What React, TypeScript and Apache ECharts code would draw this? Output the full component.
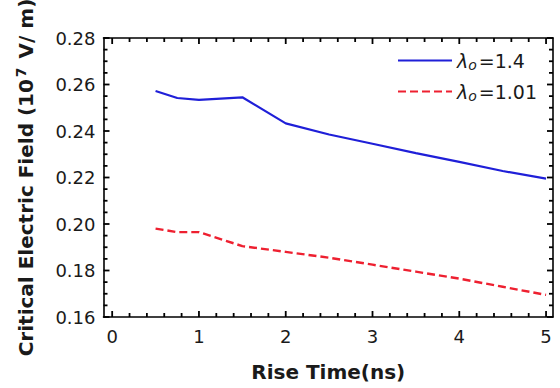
import React, { useEffect, useRef } from "react";
import * as echarts from "echarts";

const riseTime = [0.5, 0.75, 1.0, 1.5, 2.0, 2.5, 3.0, 3.5, 4.0, 4.5, 5.0];
const field14 = [0.2572, 0.2542, 0.2534, 0.2545, 0.2433, 0.2385, 0.2345, 0.2305, 0.2267, 0.2228, 0.2195];
const field101 = [0.198, 0.1965, 0.1965, 0.1905, 0.188, 0.1855, 0.1825, 0.1795, 0.1765, 0.173, 0.1695];
const seriesNames = ["λo=1.4", "λo=1.01"];
const legendLabels: Record<string, string> = {
  "λo=1.4": "{l|λ}{s|o}{n|=1.4}",
  "λo=1.01": "{l|λ}{s|o}{n|=1.01}",
};
const xMajor = [0, 1, 2, 3, 4, 5];
const xMinor = [0.2, 0.4, 0.6, 0.8, 1.2, 1.4, 1.6, 1.8, 2.2, 2.4, 2.6, 2.8, 3.2, 3.4, 3.6, 3.8, 4.2, 4.4, 4.6, 4.8];
const yMajor = [0.16, 0.18, 0.2, 0.22, 0.24, 0.26, 0.28];
const yMinor = [0.165, 0.17, 0.175, 0.185, 0.19, 0.195, 0.205, 0.21, 0.215, 0.225, 0.23, 0.235, 0.245, 0.25, 0.255, 0.265, 0.27, 0.275];

const FONT = "DejaVu Sans";
const TXT = "#1a1a1a";

export default function App() {
  const ref = useRef<HTMLDivElement>(null);
  useEffect(() => {
    document.body.style.margin = "0";
    const chart = echarts.init(ref.current!, undefined, { renderer: "svg" });
    const axisLine = { show: true, onZero: false, lineStyle: { color: "#000", width: 1.6 } };
    const xBase = { type: "value", min: -0.1, max: 5.08, splitLine: { show: false }, axisTick: { show: false } };
    const yBase = { type: "value", min: 0.16, max: 0.28, interval: 0.02, splitLine: { show: false }, axisTick: { show: false } };

    // tick table: [kind (0 = x, 1 = y), value, major(1)/minor(0)]
    const tickData: number[][] = [
      ...xMajor.map((v) => [0, v, 1]),
      ...xMinor.map((v) => [0, v, 0]),
      ...yMajor.map((v) => [1, v, 1]),
      ...yMinor.map((v) => [1, v, 0]),
    ];
    const tickStroke = { stroke: "#000", lineWidth: 1.8 };

    chart.setOption({
      animation: false,
      backgroundColor: "#fff",
      grid: { left: 103.5, right: 7, top: 38, bottom: 71, containLabel: false, outerBoundsMode: "none" },
      legend: {
        orient: "vertical",
        left: 392,
        top: 46,
        itemWidth: 54,
        itemHeight: 14,
        itemGap: 10,
        data: seriesNames,
        itemStyle: { opacity: 0 },
        formatter: (name: string) => legendLabels[name],
        textStyle: {
          color: TXT,
          fontFamily: FONT,
          fontSize: 19,
          rich: {
            l: { fontFamily: FONT, fontSize: 19, fontStyle: "italic", color: TXT },
            s: { fontFamily: FONT, fontSize: 14, fontStyle: "italic", color: TXT, padding: [9, 2, 0, 0] },
            n: { fontFamily: FONT, fontSize: 19, color: TXT },
          },
        },
      },
      xAxis: [
        {
          ...xBase,
          position: "bottom",
          axisLine,
          axisLabel: { show: true, customValues: xMajor, margin: 10, fontSize: 18, fontFamily: FONT, color: TXT },
          name: "Rise Time(ns)",
          nameLocation: "middle",
          nameGap: 45,
          nameTextStyle: { fontSize: 20, fontWeight: "bold", fontFamily: FONT, color: TXT },
        },
        {
          ...xBase,
          position: "top",
          axisLine,
          axisLabel: { show: false },
        },
      ],
      yAxis: [
        {
          ...yBase,
          position: "left",
          axisLine,
          axisLabel: {
            show: true,
            margin: 8,
            fontSize: 18,
            fontFamily: FONT,
            color: TXT,
            formatter: (v: number) => v.toFixed(2),
          },
          name: "{a|Critical Electric Field (10}{sup|7}{a| V/ m)}",
          nameLocation: "middle",
          nameGap: 66,
          nameTextStyle: {
            fontSize: 20,
            fontWeight: "bold",
            fontFamily: FONT,
            color: TXT,
            rich: {
              a: { fontSize: 20, fontWeight: "bold", fontFamily: FONT, color: TXT },
              sup: { fontSize: 14, fontWeight: "bold", fontFamily: FONT, color: TXT, padding: [0, 2, 10, 2] },
            },
          },
        },
        {
          ...yBase,
          position: "right",
          axisLine,
          axisLabel: { show: false },
        },
      ],
      series: [
        {
          name: "ticks",
          type: "custom",
          coordinateSystem: "cartesian2d",
          xAxisIndex: 0,
          yAxisIndex: 0,
          silent: true,
          clip: false,
          z: 5,
          data: tickData,
          encode: { x: 1, y: 1 },
          renderItem: (params: any, api: any) => {
            const kind = api.value(0);
            const v = api.value(1);
            const len = api.value(2) ? 6 : 4;
            const cs = params.coordSys;
            if (kind === 0) {
              const px = api.coord([v, 0.2])[0];
              const yb = cs.y + cs.height;
              return {
                type: "group",
                children: [
                  { type: "line", shape: { x1: px, y1: yb, x2: px, y2: yb - len }, style: tickStroke },
                  { type: "line", shape: { x1: px, y1: cs.y, x2: px, y2: cs.y + len }, style: tickStroke },
                ],
              };
            }
            const py = api.coord([1, v])[1];
            const xr = cs.x + cs.width;
            return {
              type: "group",
              children: [
                { type: "line", shape: { x1: cs.x, y1: py, x2: cs.x + len, y2: py }, style: tickStroke },
                { type: "line", shape: { x1: xr, y1: py, x2: xr - len, y2: py }, style: tickStroke },
              ],
            };
          },
        },
        {
          name: seriesNames[0],
          type: "line",
          xAxisIndex: 0,
          yAxisIndex: 0,
          data: riseTime.map((x, i) => [x, field14[i]]),
          symbol: "none",
          lineStyle: { color: "#1f1fd8", width: 2.2 },
          itemStyle: { color: "#1f1fd8" },
        },
        {
          name: seriesNames[1],
          type: "line",
          xAxisIndex: 0,
          yAxisIndex: 0,
          data: riseTime.map((x, i) => [x, field101[i]]),
          symbol: "none",
          lineStyle: { color: "#ee2030", width: 2.4, type: [8, 4] },
          itemStyle: { color: "#ee2030" },
        },
      ],
    });
    return () => chart.dispose();
  }, []);
  return <div ref={ref} style={{ width: 560, height: 388 }} />;
}
